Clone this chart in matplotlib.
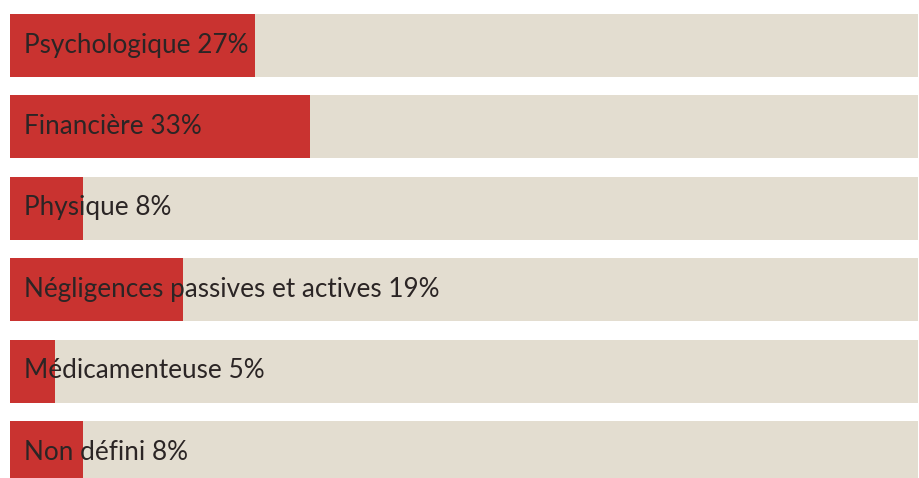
import matplotlib
matplotlib.use("Agg")
import matplotlib.pyplot as plt

# Data
categories = ["Psychologique", "Financière", "Physique",
              "Négligences passives et actives", "Médicamenteuse", "Non défini"]
percentages = [27, 33, 8, 19, 5, 8]

RED = "#c93330"
BEIGE = "#e3ddd0"
TEXT = "#2b2525"

fig = plt.figure(figsize=(9.19, 4.78), dpi=100)
fig.patch.set_facecolor("white")
ax = fig.add_axes([0, 0, 1, 1])

px_per_pct = 9.08
left_px = 10
ax.set_xlim(-left_px / px_per_pct, (919 - left_px) / px_per_pct)
# Rows are 81.5 px apart, first row centred at 45 px from top
ax.set_ylim((478 - 45) / 81.5, -45 / 81.5)

rows = list(range(len(categories)))
bar_h = 63 / 81.5
ax.barh(rows, [100] * len(rows), height=bar_h, color=BEIGE, left=0)
ax.barh(rows, percentages, height=bar_h, color=RED, left=0)

for row, name, pct in zip(rows, categories, percentages):
  ax.text(14 / px_per_pct, row, f"{name} {pct}%", va="center", ha="left",
          fontsize=18.8, color=TEXT, family="Lato")

ax.axis("off")
fig.savefig("out.png", dpi=100)
